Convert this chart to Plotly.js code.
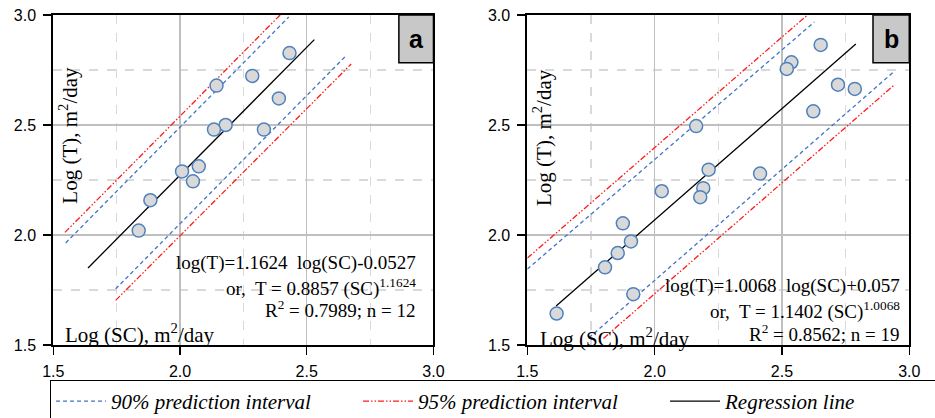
<!DOCTYPE html>
<html><head><meta charset="utf-8">
<script src="https://cdn.plot.ly/plotly-3.0.1.min.js"></script>
<style>html,body{margin:0;padding:0;background:#fff}#chart{width:935px;height:418px}</style>
</head><body><div id="chart"></div>
<script>
// ---- Panel a data (log SC vs log T) ----
const aSC = [2.432, 2.285, 2.144, 2.390, 2.180, 2.134, 2.331, 2.074, 2.008, 2.051, 1.883, 1.837];
const aT  = [2.827, 2.723, 2.679, 2.621, 2.500, 2.479, 2.479, 2.312, 2.289, 2.244, 2.158, 2.020];
const aRegX  = [1.637, 2.530], aRegY  = [1.850, 2.888];
const aUp90X = [1.549, 2.429], aUp90Y = [1.964, 2.991];
const aLo90X = [1.746, 2.650], aLo90Y = [1.755, 2.809];
const aUp95X = [1.546, 2.395], aUp95Y = [2.012, 3.000];
const aLo95X = [1.746, 2.675], aLo95Y = [1.703, 2.777];

// ---- Panel b data ----
const bSC = [2.652, 2.537, 2.519, 2.720, 2.786, 2.623, 2.163, 2.212, 2.414, 2.191, 2.028, 2.179, 1.875, 1.907, 1.855, 1.805, 1.916, 1.615];
const bT  = [2.864, 2.785, 2.755, 2.683, 2.664, 2.562, 2.495, 2.297, 2.279, 2.213, 2.199, 2.172, 2.053, 1.971, 1.918, 1.853, 1.731, 1.643];
const bRegX  = [1.613, 2.790], bRegY  = [1.677, 2.868];
const bUp90X = [1.500, 2.627], bUp90Y = [1.845, 2.968];
const bLo90X = [1.742, 2.940], bLo90Y = [1.533, 2.743];
const bUp95X = [1.500, 2.600], bUp95Y = [1.895, 3.000];
const bLo95X = [1.799, 2.938], bLo95Y = [1.530, 2.679];

const tickVals = [1.5, 2.0, 2.5, 3.0];
const tickText = ['1.5', '2.0', '2.5', '3.0'];
const minorVals = [1.75, 2.25, 2.75];
const legendNames = ['90% prediction interval', '95% prediction interval', 'Regression line'];
const panelLabels = ['a', 'b'];
const eqA = ['log(T)=1.1624  log(SC)-0.0527', 'or,  T = 0.8857 (SC)<sup>1.1624</sup>', 'R<sup>2</sup> = 0.7989; n = 12'];
const eqB = ['log(T)=1.0068  log(SC)+0.057', 'or,  T = 1.1402 (SC)<sup>1.0068</sup>', 'R<sup>2</sup> = 0.8562; n = 19'];
const xTitle = 'Log (SC), m<sup>2</sup>/day';
const yTitle = 'Log (T), m<sup>2</sup>/day';

const BLUE = '#4472c4', RED = '#ff1a1a', BLACK = '#000000';
const blueLine = {color: BLUE, width: 1.3, dash: '4px,3px'};
const redLine = {color: RED, width: 1.3, dash: '6px,2px,1.5px,2px,1.5px,2px'};
const blackLine = {color: BLACK, width: 1.3};
const mk = {size: 13, color: '#d9d9d9', line: {color: '#4f81bd', width: 1.5}};

function panel(ax, ay, sc, t, rx, ry, u90x, u90y, l90x, l90y, u95x, u95y, l95x, l95y, first) {
  return [
    {x: u90x, y: u90y, xaxis: ax, yaxis: ay, mode: 'lines', line: blueLine, name: legendNames[0], legendgroup: 'p90', showlegend: first},
    {x: l90x, y: l90y, xaxis: ax, yaxis: ay, mode: 'lines', line: blueLine, name: legendNames[0], legendgroup: 'p90', showlegend: false},
    {x: u95x, y: u95y, xaxis: ax, yaxis: ay, mode: 'lines', line: redLine, name: legendNames[1], legendgroup: 'p95', showlegend: first},
    {x: l95x, y: l95y, xaxis: ax, yaxis: ay, mode: 'lines', line: redLine, name: legendNames[1], legendgroup: 'p95', showlegend: false},
    {x: rx, y: ry, xaxis: ax, yaxis: ay, mode: 'lines', line: blackLine, name: legendNames[2], legendgroup: 'reg', showlegend: first},
    {x: sc, y: t, xaxis: ax, yaxis: ay, mode: 'markers', marker: mk, name: 'data', showlegend: false}
  ];
}

const data = [].concat(
  panel('x', 'y', aSC, aT, aRegX, aRegY, aUp90X, aUp90Y, aLo90X, aLo90Y, aUp95X, aUp95Y, aLo95X, aLo95Y, true),
  panel('x2', 'y2', bSC, bT, bRegX, bRegY, bUp90X, bUp90Y, bLo90X, bLo90Y, bUp95X, bUp95Y, bLo95X, bLo95Y, false)
);

const sans = 'Liberation Sans';
function axis(domain, anchor, standoff) {
  return {
    domain: domain, anchor: anchor, range: [1.5, 3.0],
    tickmode: 'array', tickvals: tickVals, ticktext: tickText, ticklabelstandoff: standoff,
    showline: true, mirror: true, linecolor: '#000', linewidth: 2,
    ticks: 'outside', ticklen: 8, tickwidth: 1.5, tickcolor: '#000',
    showgrid: true, gridcolor: '#bfbfbf', gridwidth: 1.5, zeroline: false, automargin: false,
    minor: {tickmode: 'array', tickvals: minorVals, showgrid: true, gridcolor: '#d9d9d9', griddash: 'dash', gridwidth: 1.2, ticks: ''},
    tickfont: {family: sans, size: 16, color: '#000'}, fixedrange: true
  };
}

const serif = 'Liberation Serif';
const annotations = [];
const shapes = [];
[['x', 'y', eqA, 0.959, [0.248, 0.173, 0.109], 0.041, 0.637, 0.025, 0.036, 0.909],
 ['x2', 'y2', eqB, 0.981, [0.179, 0.106, 0.036], 0.038, 0.63, 0.028, 0.024, 0.905]].forEach((p, i) => {
  const xr = p[0] + ' domain', yr = p[1] + ' domain';
  p[2].forEach((txt, k) => annotations.push({xref: xr, yref: yr, x: p[3], y: p[4][k], xanchor: 'right', yanchor: 'middle',
    text: txt, showarrow: false, font: {family: serif, size: 19, color: '#000'}}));
  annotations.push({xref: xr, yref: yr, x: p[5], y: p[6], textangle: -90, xanchor: 'center', yanchor: 'middle',
    text: yTitle, showarrow: false, font: {family: serif, size: 21, color: '#000'}});
  annotations.push({xref: xr, yref: yr, x: p[7], y: p[8], xanchor: 'left', yanchor: 'middle',
    text: xTitle, showarrow: false, font: {family: serif, size: 21, color: '#000'}});
  shapes.push({type: 'rect', xref: xr, yref: yr, x0: p[9], x1: 1.0, y0: 0.855, y1: 1.0,
    fillcolor: '#c8c8c8', line: {color: '#000', width: 1.5}, layer: 'above'});
  annotations.push({xref: xr, yref: yr, x: (p[9] + 1) / 2, y: 0.927, xanchor: 'center', yanchor: 'middle',
    text: '<b>' + panelLabels[i] + '</b>', showarrow: false, font: {family: sans, size: 25, color: '#000'}});
});

const layout = {
  width: 935, height: 418, margin: {l: 0, r: 0, t: 15, b: 73, autoexpand: false},
  font: {family: sans, size: 16, color: '#000'},
  paper_bgcolor: '#fff', plot_bgcolor: '#fff',
  xaxis: axis([0.057, 0.4636], 'y', 3),
  yaxis: axis([0, 1], 'x', 4),
  xaxis2: axis([0.564, 0.9725], 'y2', 3),
  yaxis2: axis([0, 1], 'x2', 4),
  showlegend: true,
  legend: {orientation: 'h', x: 0.0535, xanchor: 'left', y: -0.106, yanchor: 'top',
    bordercolor: '#000', borderwidth: 1, bgcolor: '#fff', itemwidth: 50,
    entrywidth: 242, entrywidthmode: 'pixels', traceorder: 'normal',
    font: {family: serif, size: 21, style: 'italic', color: '#000'}},
  annotations: annotations, shapes: shapes
};

Plotly.newPlot('chart', data, layout, {displayModeBar: false, staticPlot: true});
</script>
</body></html>
